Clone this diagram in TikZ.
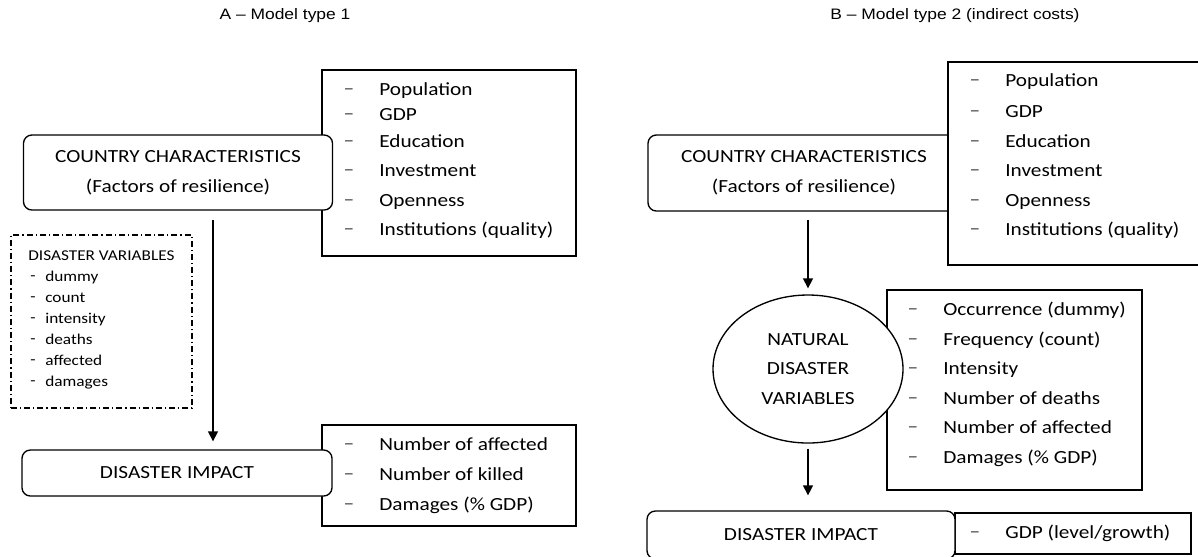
\documentclass[tikz,border=0pt]{standalone}
\usepackage{fontspec}
\setmainfont{Carlito}[FakeStretch=1.15]
\newfontfamily\titlefont{Liberation Sans}[FakeStretch=1.15]
\usetikzlibrary{arrows.meta,shapes.geometric}
\begin{document}
\begin{tikzpicture}[x=0.6pt,y=-0.6pt,
  line/.style={draw=black,line width=0.8pt},
  listbox/.style={line,fill=white,rectangle,inner sep=0pt},
  rbox/.style={line,fill=white,rectangle,rounded corners=5pt,inner sep=0pt,align=center,font=\fontsize{11.1}{18}\selectfont},
  ellbox/.style={line,fill=white,ellipse,inner sep=0pt,align=center,font=\fontsize{11.1}{17.7}\selectfont},
  dashbox/.style={draw=black,line width=0.7pt,dash pattern=on 3.6pt off 1.8pt on 0.7pt off 1.8pt,rectangle,inner sep=0pt},
  item/.style={anchor=mid west,inner sep=0pt,font=\fontsize{11.1}{13}\selectfont},
  dmark/.style={anchor=center,inner sep=0pt,font=\fontsize{11.1}{13}\selectfont,text=black!75},
  smallitem/.style={anchor=mid west,inner sep=0pt,font=\fontsize{9}{11}\selectfont},
  smallmark/.style={anchor=center,inner sep=0pt,font=\fontsize{9}{11}\selectfont},
  ttl/.style={inner sep=0pt,font=\titlefont\fontsize{9.1}{11}\selectfont},
  arr/.style={line,-{Triangle[length=6pt,width=6pt]}}
]
\useasboundingbox (0,0) rectangle (1198,556);

% ---------------- Panel A ----------------
\node[ttl] (tA) at (285,16) {A – Model type 1};

\node[listbox,minimum width=254*0.6pt,minimum height=186*0.6pt] (lA1) at (449,163) {};
\node[rbox,minimum width=309*0.6pt,minimum height=75*0.6pt] (cA) at (178,172.5) {COUNTRY CHARACTERISTICS\\(Factors of resilience)};
\foreach \y/\t [count=\i] in {92/Population,117/GDP,144/Education,173/Investment,203/Openness,232/Institutions (quality)}{
  \node[dmark] (lA1d\i) at (349,\y) {–};
  \node[item] (lA1t\i) at (379,\y) {\t};
}

\node[dashbox,minimum width=181*0.6pt,minimum height=173*0.6pt] (dv) at (101.5,321.5) {};
\node[smallitem] (dvh) at (28,257) {DISASTER VARIABLES};
\foreach \y/\t [count=\i] in {278/dummy,299/count,320/intensity,341/deaths,362/affected,383/damages}{
  \node[smallmark] (dvd\i) at (33,\y) {-};
  \node[smallitem] (dvt\i) at (45,\y) {\t};
}

\node[listbox,minimum width=254*0.6pt,minimum height=101*0.6pt] (lA2) at (449,475.5) {};
\node[rbox,minimum width=310*0.6pt,minimum height=46*0.6pt] (iA) at (177,473) {DISASTER IMPACT};
\foreach \y/\t [count=\i] in {447/Number of affected,477/Number of killed,507/Damages (\% GDP)}{
  \node[dmark] (lA2d\i) at (349,\y) {–};
  \node[item] (lA2t\i) at (379,\y) {\t};
}

\coordinate (xA) at (213,0);
\draw[arr,shorten <=9*0.6pt,shorten >=8*0.6pt] (cA.south -| xA) -- (iA.north -| xA);

% ---------------- Panel B ----------------
\node[ttl] (tB) at (955,16) {B – Model type 2 (indirect costs)};

\node[rbox,minimum width=312*0.6pt,minimum height=76*0.6pt] (cB) at (804,173) {COUNTRY CHARACTERISTICS\\(Factors of resilience)};
\node[listbox,minimum width=252*0.6pt,minimum height=203*0.6pt] (lB1) at (1074,163.5) {};
\foreach \y/\t [count=\i] in {83/Population,114/GDP,144/Education,173/Investment,203/Openness,232/Institutions (quality)}{
  \node[dmark] (lB1d\i) at (975,\y) {–};
  \node[item] (lB1t\i) at (1005,\y) {\t};
}

\node[listbox,minimum width=255*0.6pt,minimum height=200*0.6pt] (lB2) at (1014.5,390) {};
\node[ellbox,minimum width=190*0.6pt,minimum height=148*0.6pt] (nd) at (808,369) {NATURAL\\DISASTER\\VARIABLES};
\foreach \y/\t [count=\i] in {312/Occurrence (dummy),342/Frequency (count),371/Intensity,401/Number of deaths,430/Number of affected,460/Damages (\% GDP)}{
  \node[dmark] (lB2d\i) at (913,\y) {–};
  \node[item] (lB2t\i) at (943,\y) {\t};
}

\node[listbox,minimum width=236*0.6pt,minimum height=41*0.6pt] (lB3) at (1073,533.5) {};
\node[rbox,minimum width=308*0.6pt,minimum height=48*0.6pt] (iB) at (801,535) {DISASTER IMPACT};
\node[dmark] (lB3d1) at (975,535) {–};
\node[item] (lB3t1) at (1005,535) {GDP (level/growth)};

\draw[arr,shorten <=8*0.6pt,shorten >=6*0.6pt] (cB.south -| nd.north) -- (nd.north);
\draw[arr,shorten <=5*0.6pt,shorten >=15*0.6pt] (nd.south) -- (iB.north -| nd.south);
\end{tikzpicture}
\end{document}
